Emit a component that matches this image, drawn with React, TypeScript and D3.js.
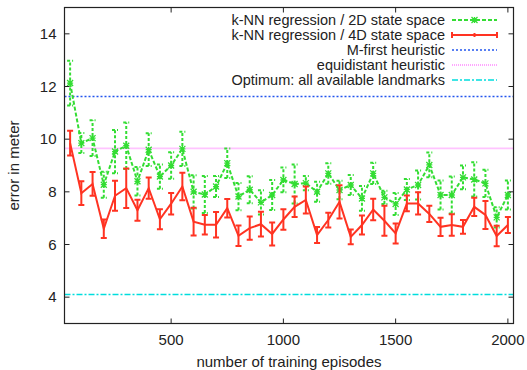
import React from "react";
import * as d3 from "d3";

// training episodes (x values)
const episodes = [
  50, 100, 150, 200, 250, 300, 350, 400, 450, 500, 550, 600, 650, 700, 750, 800,
  850, 900, 950, 1000, 1050, 1100, 1150, 1200, 1250, 1300, 1350, 1400, 1450,
  1500, 1550, 1600, 1650, 1700, 1750, 1800, 1850, 1900, 1950, 2000,
];

// k-NN regression / 2D state space
const mean2D = [
  12.13, 9.85, 10.04, 8.27, 9.53, 9.75, 8.4, 9.6, 8.58, 9.0, 9.63, 8.0, 7.9,
  8.2, 9.09, 7.82, 8.08, 7.6, 7.88, 8.45, 8.3, 8.33, 8.0, 8.7, 8.07, 8.26, 7.75,
  8.7, 7.79, 7.54, 8.09, 8.26, 9.02, 7.88, 7.88, 8.55, 8.47, 8.32, 7.03, 7.88,
];
const err2D = [
  0.85, 0.38, 0.68, 0.49, 0.82, 0.88, 0.54, 0.62, 0.46, 0.5, 0.65, 0.63, 0.7,
  0.4, 0.56, 0.52, 0.51, 0.46, 0.57, 0.47, 0.74, 0.27, 0.38, 0.39, 0.35, 0.38,
  0.47, 0.4, 0.25, 0.42, 0.4, 0.55, 0.47, 0.55, 0.7, 0.45, 0.65, 0.52, 0.38,
  0.55,
];

// k-NN regression / 4D state space
const mean4D = [
  9.85, 7.95, 8.3, 6.6, 7.85, 8.14, 7.3, 8.14, 6.96, 7.55, 8.2, 6.87, 6.75,
  6.75, 7.38, 6.33, 6.62, 6.77, 6.4, 6.95, 7.43, 7.69, 6.36, 6.93, 7.62, 6.29,
  6.74, 7.33, 6.9, 6.42, 7.56, 7.56, 7.16, 6.67, 6.74, 6.67, 7.43, 7.12, 6.32,
  6.74,
];
const err4D = [
  0.47, 0.45, 0.45, 0.35, 0.57, 0.75, 0.4, 0.4, 0.38, 0.41, 0.52, 0.53, 0.37,
  0.48, 0.35, 0.39, 0.44, 0.47, 0.44, 0.39, 0.39, 0.51, 0.3, 0.28, 0.63, 0.28,
  0.36, 0.41, 0.57, 0.38, 0.3, 0.42, 0.31, 0.35, 0.41, 0.26, 0.35, 0.53, 0.39,
  0.3,
];

// constant reference levels
const mFirst = 11.62;
const equidistant = 9.65;
const optimum = 4.1;

const yTicks = [4, 6, 8, 10, 12, 14];
const xTicks = [500, 1000, 1500, 2000];

const legendLabels = [
  "k-NN regression / 2D state space",
  "k-NN regression / 4D state space",
  "M-first heuristic",
  "equidistant heuristic",
  "Optimum: all available landmarks",
];

const W = 527;
const H = 370;
const left = 64.5;
const right = 513.5;
const top = 7.5;
const bottom = 323.5;
const font = "'Liberation Sans', Arial, Helvetica, sans-serif";
const fs = 15;
const legendFs = 14.5;

const GREEN = "#33dd33";
const RED = "#ff3322";
const BLUE = "#2255ee";
const PINK = "#ff88ff";
const CYAN = "#00dddd";

function Star({ x, y, color }) {
  const s = 3;
  return (
    <path
      d={`M${x - s},${y}H${x + s}M${x},${y - s}V${y + s}M${x - s},${y - s}L${x + s},${y + s}M${x - s},${y + s}L${x + s},${y - s}`}
      stroke={color}
      strokeWidth={1.3}
    />
  );
}

export default function App() {
  const x = d3.scaleLinear().domain([25, 2025]).range([left, right]);
  const y = d3.scaleLinear().domain([3, 15]).range([bottom, top]);

  const line = d3
    .line<number>()
    .x((d, i) => x(episodes[i]))
    .y((d) => y(d));

  const cap = 3;
  const errorBars = (means, errs, color, dash) =>
    means.map((m, i) => {
      const xi = x(episodes[i]);
      const y0 = y(m - errs[i]);
      const y1 = y(m + errs[i]);
      return (
        <path
          key={i}
          d={`M${xi},${y0}V${y1}M${xi - cap},${y0}H${xi + cap}M${xi - cap},${y1}H${xi + cap}`}
          stroke={color}
          strokeWidth={2}
          strokeDasharray={dash}
          fill="none"
        />
      );
    });

  const lx0 = 452;
  const lx1 = 497;
  const legendY = (i) => 20 + i * 15;

  return (
    <div style={{ position: "fixed", left: 0, top: 0 }}>
      <svg width={W} height={H} style={{ display: "block", background: "#fff" }}>
        {/* horizontal reference lines */}
        <line x1={left} x2={right} y1={y(mFirst)} y2={y(mFirst)} stroke={BLUE} strokeWidth={1.6} strokeDasharray="2,2" />
        <line x1={left} x2={right} y1={y(equidistant)} y2={y(equidistant)} stroke={PINK} strokeWidth={1.6} strokeDasharray="1,1" />
        <line x1={left} x2={right} y1={y(optimum)} y2={y(optimum)} stroke={CYAN} strokeWidth={1.6} strokeDasharray="6,2,2,2" />

        {/* 2D series */}
        <path d={line(mean2D)} fill="none" stroke={GREEN} strokeWidth={2} strokeDasharray="4,2" />
        {errorBars(mean2D, err2D, GREEN, "3,2")}
        {mean2D.map((m, i) => (
          <Star key={i} x={x(episodes[i])} y={y(m)} color={GREEN} />
        ))}

        {/* 4D series */}
        <path d={line(mean4D)} fill="none" stroke={RED} strokeWidth={2} />
        {errorBars(mean4D, err4D, RED, null)}

        {/* frame */}
        <rect x={left} y={top} width={right - left} height={bottom - top} fill="none" stroke="#222" strokeWidth={1.2} />

        {/* y ticks */}
        {yTicks.map((t) => (
          <g key={t}>
            <line x1={left} x2={left + 5} y1={y(t)} y2={y(t)} stroke="#222" />
            <line x1={right - 5} x2={right} y1={y(t)} y2={y(t)} stroke="#222" />
            <text x={left - 8} y={y(t)} dy="0.35em" textAnchor="end" fontFamily={font} fontSize={fs} fill="#222">
              {t}
            </text>
          </g>
        ))}

        {/* x ticks */}
        {xTicks.map((t) => (
          <g key={t}>
            <line x1={x(t)} x2={x(t)} y1={bottom} y2={bottom - 5} stroke="#222" />
            <line x1={x(t)} x2={x(t)} y1={top} y2={top + 5} stroke="#222" />
            <text x={x(t)} y={340} dy="0.35em" textAnchor="middle" fontFamily={font} fontSize={fs} fill="#222">
              {t}
            </text>
          </g>
        ))}

        {/* axis titles */}
        <text x={(left + right) / 2} y={362} dy="0.35em" textAnchor="middle" fontFamily={font} fontSize={fs} fill="#222">
          number of training episodes
        </text>
        <text
          transform={`translate(14,${(top + bottom) / 2}) rotate(-90)`}
          dy="0.35em"
          textAnchor="middle"
          fontFamily={font}
          fontSize={fs}
          fill="#222"
        >
          error in meter
        </text>

        {/* legend */}
        {legendLabels.map((lab, i) => (
          <text key={lab} x={445} y={legendY(i)} dy="0.35em" textAnchor="end" fontFamily={font} fontSize={legendFs} fill="#222">
            {lab}
          </text>
        ))}
        <line x1={lx0} x2={lx1} y1={legendY(0)} y2={legendY(0)} stroke={GREEN} strokeWidth={2} strokeDasharray="4,2" />
        <Star x={(lx0 + lx1) / 2} y={legendY(0)} color={GREEN} />
        <path
          d={`M${lx0},${legendY(1)}H${lx1}M${lx0},${legendY(1) - 3}V${legendY(1) + 3}M${lx1},${legendY(1) - 3}V${legendY(1) + 3}M${(lx0 + lx1) / 2},${legendY(1) - 2}V${legendY(1) + 2}`}
          stroke={RED}
          strokeWidth={2}
        />
        <line x1={lx0} x2={lx1} y1={legendY(2)} y2={legendY(2)} stroke={BLUE} strokeWidth={1.6} strokeDasharray="2,2" />
        <line x1={lx0} x2={lx1} y1={legendY(3)} y2={legendY(3)} stroke={PINK} strokeWidth={1.6} strokeDasharray="1,1" />
        <line x1={lx0} x2={lx1} y1={legendY(4)} y2={legendY(4)} stroke={CYAN} strokeWidth={1.6} strokeDasharray="6,2,2,2" />
      </svg>
    </div>
  );
}
